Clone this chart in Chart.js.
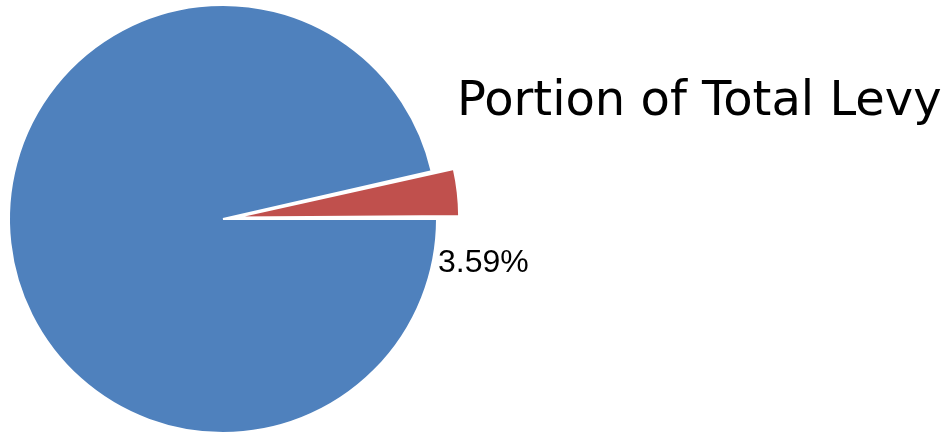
<!DOCTYPE html>
<html>
<head>
<meta charset="utf-8">
<script src="https://cdn.jsdelivr.net/npm/chart.js@4/dist/chart.umd.min.js"></script>
<style>
  html, body { margin: 0; padding: 0; background: #fff; overflow: hidden; }
  #wrap { position: absolute; left: -17px; top: -21px; width: 969px; height: 480px; }
</style>
</head>
<body>
<div id="wrap"><canvas id="levyChart"></canvas></div>
<script>
const labels = ['Other', 'Share'];
const shares = [96.41, 3.59];
const colors = ['#4F81BD', '#C0504D'];
const offsets = [0, 50];
const labelled = [false, true];
const titleText = 'Portion of Total Levy';

// title and the percentage label for the pulled-out slice
const textPlugin = {
    id: 'levyText',
    afterDraw(chart) {
        const c = chart.ctx;
        c.save();
        c.fillStyle = '#000';
        c.textBaseline = 'alphabetic';
        c.textAlign = 'left';
        c.font = '48px "DejaVu Sans"';
        c.fillText(titleText, 474, 136);

        const meta = chart.getDatasetMeta(0);
        c.font = '32px "Liberation Sans", Arial';
        meta.data.forEach((arc, i) => {
            if (!labelled[i]) return;
            const p = arc.getProps(['x', 'y', 'outerRadius']);
            c.fillText(shares[i].toFixed(2) + '%', p.x + p.outerRadius + 1, p.y + 53);
        });
        c.restore();
    }
};

const ctx = document.getElementById('levyChart').getContext('2d');
new Chart(ctx, {
    type: 'pie',
    data: {
        labels: labels,
        datasets: [{
            data: shares,
            backgroundColor: colors,
            borderColor: '#fff',
            borderWidth: 2,
            offset: offsets,
            hoverOffset: 0
        }]
    },
    options: {
        responsive: true,
        maintainAspectRatio: false,
        animation: false,
        events: [],
        rotation: 90,
        layout: { padding: { right: 489 } },
        plugins: {
            legend: { display: false },
            tooltip: { enabled: false },
            title: { display: false }
        }
    },
    plugins: [textPlugin]
});
</script>
</body>
</html>
